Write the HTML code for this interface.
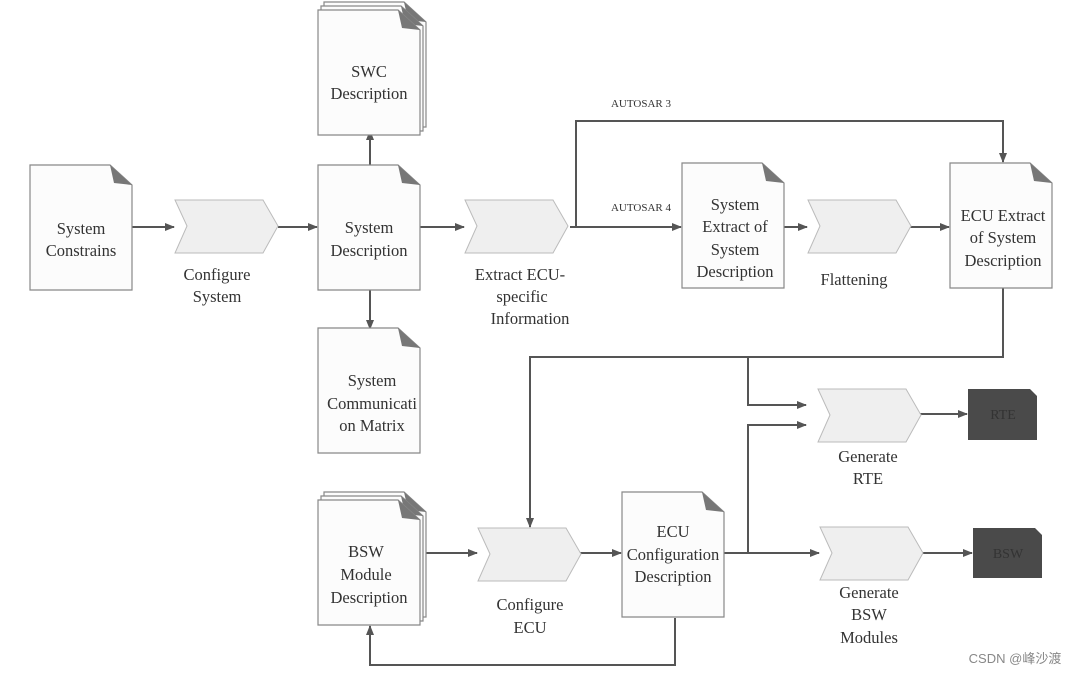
<!DOCTYPE html>
<html><head><meta charset="utf-8"><style>
html,body{margin:0;padding:0;background:#fff;}
svg{display:block}
text{font-family:"Liberation Serif",serif;font-size:16.5px;fill:#333;text-anchor:middle}
.s{font-size:11px}
</style></head><body>
<svg width="1081" height="675" viewBox="0 0 1081 675" xmlns="http://www.w3.org/2000/svg">
<defs>
<marker id="a" markerWidth="10" markerHeight="8" refX="9" refY="4" orient="auto" markerUnits="userSpaceOnUse"><path d="M0,0 L10,4 L0,8 z" fill="#555"/></marker>
<g id="doc"><path d="M0,0 H80 L102,20 V125 H0 Z" fill="#fcfcfc" stroke="#888" stroke-width="1.2"/><path d="M80,0 L102,20 L84,18 Z" fill="#777"/></g>
<g id="chev"><path d="M0,0 H88 L103,26 L88,53 H0 L12,26 Z" fill="#efefef" stroke="#bbb" stroke-width="1"/></g>
</defs>
<g stroke="#555" stroke-width="2" fill="none">
<line x1="132" y1="227" x2="174" y2="227" marker-end="url(#a)"/>
<line x1="278" y1="227" x2="317" y2="227" marker-end="url(#a)"/>
<line x1="370" y1="165" x2="370" y2="131" marker-end="url(#a)"/>
<line x1="370" y1="290" x2="370" y2="329" marker-end="url(#a)"/>
<line x1="420" y1="227" x2="464" y2="227" marker-end="url(#a)"/>
<line x1="570" y1="227" x2="681" y2="227" marker-end="url(#a)"/>
<polyline points="576,227 576,121 1003,121 1003,162" marker-end="url(#a)"/>
<line x1="784" y1="227" x2="807" y2="227" marker-end="url(#a)"/>
<line x1="910" y1="227" x2="949" y2="227" marker-end="url(#a)"/>
<polyline points="1003,288 1003,357 530,357 530,527" marker-end="url(#a)"/>
<polyline points="748,357 748,405 806,405" marker-end="url(#a)"/>
<polyline points="748,553 748,425 806,425" marker-end="url(#a)"/>
<line x1="420" y1="553" x2="477" y2="553" marker-end="url(#a)"/>
<line x1="580" y1="553" x2="621" y2="553" marker-end="url(#a)"/>
<line x1="724" y1="553" x2="819" y2="553" marker-end="url(#a)"/>
<line x1="920" y1="414" x2="967" y2="414" marker-end="url(#a)"/>
<line x1="922" y1="553" x2="972" y2="553" marker-end="url(#a)"/>
<polyline points="675,618 675,665 370,665 370,626" marker-end="url(#a)"/>
</g>
<use href="#doc" x="30" y="165"/>
<use href="#doc" x="324" y="2"/><use href="#doc" x="321" y="6"/><use href="#doc" x="318" y="10"/>
<use href="#doc" x="318" y="165"/>
<use href="#doc" x="318" y="328"/>
<use href="#doc" x="682" y="163"/>
<use href="#doc" x="950" y="163"/>
<use href="#doc" x="324" y="492"/><use href="#doc" x="321" y="496"/><use href="#doc" x="318" y="500"/>
<use href="#doc" x="622" y="492"/>
<use href="#chev" x="175" y="200"/>
<use href="#chev" x="465" y="200"/>
<use href="#chev" x="808" y="200"/>
<use href="#chev" x="478" y="528"/>
<use href="#chev" x="818" y="389"/>
<use href="#chev" x="820" y="527"/>
<path d="M968,389 H1030 L1037,396 V440 H968 Z" fill="#4a4a4a"/>
<path d="M973,528 H1035 L1042,535 V578 H973 Z" fill="#4a4a4a"/>
<text x="1003" y="419" style="fill:#333;font-size:14px">RTE</text>
<text x="1008" y="558" style="fill:#333;font-size:14px">BSW</text>
<text x="81" y="234">System</text><text x="81" y="256">Constrains</text>
<text x="217" y="280">Configure</text><text x="217" y="302">System</text>
<text x="369" y="77">SWC</text><text x="369" y="99">Description</text>
<text x="369" y="233">System</text><text x="369" y="256">Description</text>
<text x="372" y="386">System</text><text x="372" y="409">Communicati</text><text x="372" y="431">on Matrix</text>
<text x="520" y="280">Extract ECU-</text><text x="522" y="302">specific</text><text x="530" y="324">Information</text>
<text x="641" y="107" class="s">AUTOSAR 3</text>
<text x="641" y="211" class="s">AUTOSAR 4</text>
<text x="735" y="210">System</text><text x="735" y="232">Extract of</text><text x="735" y="255">System</text><text x="735" y="277">Description</text>
<text x="854" y="285">Flattening</text>
<text x="1003" y="221">ECU Extract</text><text x="1003" y="243">of System</text><text x="1003" y="266">Description</text>
<text x="868" y="462">Generate</text><text x="868" y="484">RTE</text>
<text x="366" y="557">BSW</text><text x="366" y="580">Module</text><text x="369" y="603">Description</text>
<text x="673" y="537">ECU</text><text x="673" y="560">Configuration</text><text x="673" y="582">Description</text>
<text x="530" y="610">Configure</text><text x="530" y="633">ECU</text>
<text x="869" y="598">Generate</text><text x="869" y="620">BSW</text><text x="869" y="643">Modules</text>
<text x="1015" y="663" style="font-family:'Liberation Sans','Noto Sans CJK SC',sans-serif;font-size:13px;fill:#888">CSDN @峰沙渡</text>
</svg>
</body></html>
